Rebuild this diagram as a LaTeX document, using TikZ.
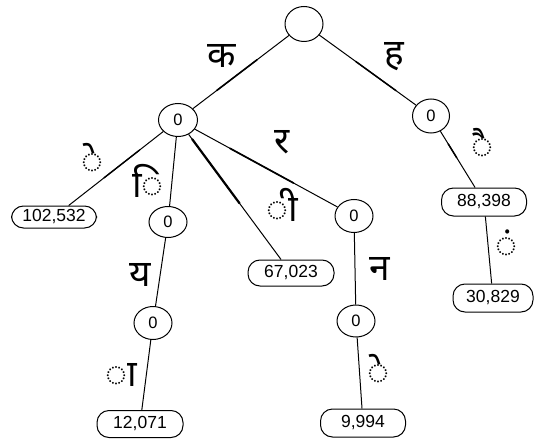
\documentclass[tikz,border=0pt]{standalone}
\usepackage{fontspec}
\setmainfont{Liberation Sans}
\newfontfamily\deva[Script=Devanagari]{Noto Sans}
\usetikzlibrary{shapes.geometric}
\begin{document}
\begin{tikzpicture}[x=1pt,y=-1pt,
  oval/.style={ellipse,draw,line width=1pt,inner sep=0pt,minimum width=38pt,minimum height=33pt,font=\fontsize{16.5}{16.5}\selectfont},
  leaf/.style={rectangle,draw,line width=1pt,rounded corners=12pt,inner sep=0pt,minimum width=85pt,minimum height=26pt,font=\fontsize{17.5}{17.5}\selectfont},
  lab/.style={inner sep=0pt,font=\deva\fontsize{37}{37}\selectfont},
  edge/.style={line width=1pt},
  heavy/.style={line width=1.8pt,line cap=round}]
\useasboundingbox (0,0) rectangle (534,438);
% nodes
\node[oval,minimum height=35pt] (root) at (304,24) {};
\node[oval,minimum width=39pt] (A) at (178,120) {0};
\node[oval,minimum width=37pt,minimum height=34pt] (H) at (431,116) {0};
\node[leaf,minimum height=22pt] (L1) at (54,217) {102,532};
\node[oval,minimum height=31pt] (Ni) at (168,222) {0};
\node[oval] (Ny) at (153,323) {0};
\node[leaf,minimum width=86pt,minimum height=27pt] (L2) at (140,424) {12,071};
\node[leaf,minimum width=86pt] (L3) at (291,273) {67,023};
\node[oval] (Nr) at (354,216) {0};
\node[oval,minimum height=32pt] (Nn) at (356,321) {0};
\node[leaf,minimum height=28pt] (L4) at (363,423) {9,994};
\node[leaf,minimum height=28pt] (L5) at (484,202) {88,398};
\node[leaf,minimum width=80pt,minimum height=28pt] (L6) at (493,298) {30,829};
% edges
\draw[edge] (root) -- (A);
\draw[heavy,line width=1.6pt,shorten <=40pt,shorten >=30pt] (root) -- (A);
\draw[edge] (root) -- (H);
\draw[heavy,line width=1.5pt,shorten <=45pt,shorten >=25pt] (root) -- (H);
\draw[edge] (A) -- (L1);
\draw[heavy,line width=1.4pt,shorten <=30pt,shorten >=45pt] (A) -- (L1);
\draw[edge] (A) -- (Ni);
\draw[edge] (A) -- (L3);
\draw[heavy,line width=2.2pt,shorten <=6pt,shorten >=70pt] (A) -- (L3);
\draw[edge] (A) -- (Nr);
\draw[heavy,line width=1.7pt,shorten <=40pt,shorten >=50pt] (A) -- (Nr);
\draw[edge] (Ni) -- (Ny);
\draw[edge] (Ny) -- (L2);
\draw[edge] (Nr) -- (Nn);
\draw[edge] (Nn) -- (L4);
\draw[edge] (H) -- (L5);
\draw[heavy,line width=1.5pt,shorten <=15pt,shorten >=35pt] (H) -- (L5);
\draw[edge] (L5) -- (L6);
% labels
\node[lab] (lk) at (222,56) {क};
\node[lab] (lh) at (394,57) {ह};
\node[lab] (le1) at (92,158) {◌े};
\node[lab] (li) at (148,181) {◌ि};
\node[lab] (lr) at (282,142) {र};
\node[lab] (lii) at (282,205) {◌ी};
\node[lab] (ly) at (140,275) {य};
\node[lab] (laa) at (121,375) {◌ा};
\node[lab] (ln) at (380,269) {न};
\node[lab] (le2) at (378,369) {◌े};
\node[lab] (lai) at (482,143) {◌ै};
\node[lab] (lm) at (506,244) {◌ं};
\end{tikzpicture}
\end{document}
